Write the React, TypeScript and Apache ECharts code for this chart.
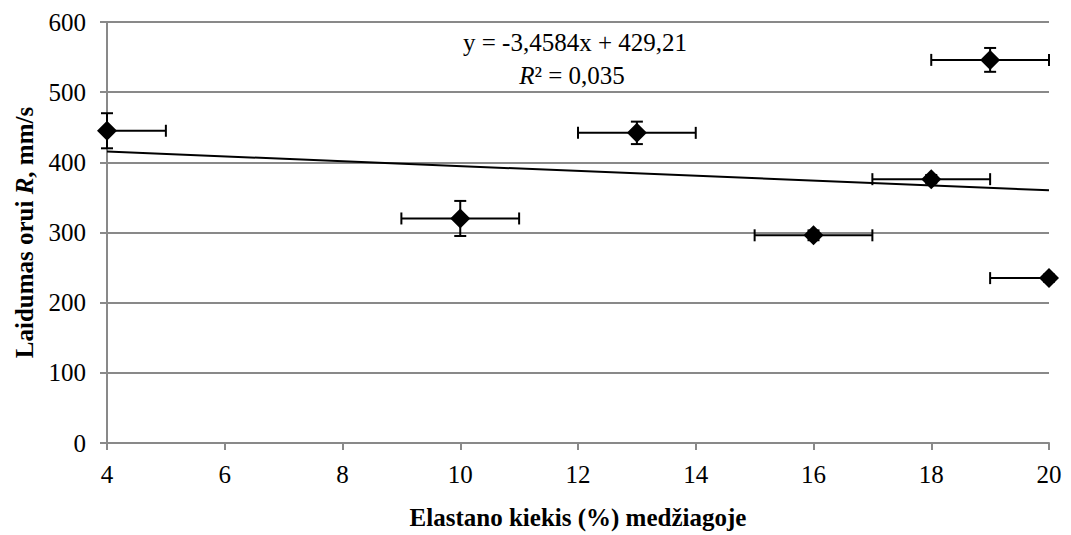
import React, { useEffect, useRef } from "react";
import * as echarts from "echarts";

const xValues = [4, 10, 13, 16, 18, 19, 20];
const yValues = [445, 320, 442, 296, 376, 546, 235];
const yErrors = [25, 25, 16, 7, 6, 17, 5];
const xErrors = [1, 1, 1, 1, 1, 1, 1];
const trendSlope = -3.4584;
const trendIntercept = 429.21;
const xMin = 4;
const xMax = 20;
const yTicks = [0, 100, 200, 300, 400, 500, 600];

const FONT = "Liberation Serif";
const FS = 25;

export default function App() {
  const ref = useRef<HTMLDivElement>(null);
  useEffect(() => {
    if (!ref.current) return;
    const chart = echarts.init(ref.current, undefined, { renderer: "svg" });
    const points = xValues.map((x, i) => [x, yValues[i]]);
    const errData = xValues.map((x, i) => [x, yValues[i], xErrors[i], yErrors[i]]);
    const trend = [
      [xMin, trendSlope * xMin + trendIntercept],
      [xMax, trendSlope * xMax + trendIntercept],
    ];
    const grid = "#898989";
    chart.setOption({
      animation: false,
      textStyle: { fontFamily: FONT },
      grid: { left: 107, right: 22, top: 22, bottom: 86, containLabel: false },
      xAxis: {
        type: "value",
        min: xMin,
        max: xMax,
        interval: 2,
        name: "Elastano kiekis (%) medžiagoje",
        nameLocation: "middle",
        nameGap: 62,
        nameTextStyle: { fontFamily: FONT, fontSize: FS, fontWeight: "bold", color: "#000" },
        axisLine: { show: true, lineStyle: { color: grid, width: 2 } },
        axisTick: { show: true, length: 7, lineStyle: { color: grid, width: 2 } },
        axisLabel: { fontFamily: FONT, fontSize: FS, color: "#000", margin: 19 },
        splitLine: { show: false },
      },
      yAxis: {
        type: "value",
        min: 0,
        max: 600,
        interval: 100,
        name: "{b|Laidumas orui }{i|R}{b|, mm/s}",
        nameLocation: "middle",
        nameGap: 70,
        nameTextStyle: {
          fontFamily: FONT,
          fontSize: FS,
          color: "#000",
          rich: {
            b: { fontFamily: FONT, fontSize: FS, fontWeight: "bold", color: "#000" },
            i: { fontFamily: FONT, fontSize: FS, fontWeight: "bold", fontStyle: "italic", color: "#000" },
          },
        },
        axisLine: { show: true, lineStyle: { color: grid, width: 2 } },
        axisTick: { show: true, length: 7, lineStyle: { color: grid, width: 2 } },
        axisLabel: {
          fontFamily: FONT,
          fontSize: FS,
          color: "#000",
          margin: 21,
          formatter: (v: number) => (yTicks.includes(v) ? String(v) : ""),
        },
        splitLine: { show: true, lineStyle: { color: grid, width: 2 } },
      },
      graphic: [
        {
          type: "text",
          x: 575,
          y: 42,
          style: {
            text: "y = -3,4584x + 429,21",
            fontFamily: FONT,
            fontSize: FS,
            fill: "#000",
            align: "center",
            verticalAlign: "middle",
          },
        },
        {
          type: "text",
          x: 572,
          y: 75,
          style: {
            text: "{i|R}{n|² = 0,035}",
            fill: "#000",
            align: "center",
            verticalAlign: "middle",
            rich: {
              i: { fontFamily: FONT, fontSize: FS, fontStyle: "italic", fill: "#000" },
              n: { fontFamily: FONT, fontSize: FS, fill: "#000" },
            },
          },
        },
      ],
      series: [
        {
          type: "line",
          data: trend,
          showSymbol: false,
          symbol: "none",
          lineStyle: { color: "#000", width: 2 },
          z: 3,
        },
        {
          type: "custom",
          data: errData,
          z: 4,
          renderItem: (params: any, api: any) => {
            const x = api.value(0);
            const y = api.value(1);
            const ex = api.value(2);
            const ey = api.value(3);
            const xl = Math.max(x - ex, xMin);
            const xr = Math.min(x + ex, xMax);
            const c = api.coord([x, y]);
            const pl = api.coord([xl, y]);
            const pr = api.coord([xr, y]);
            const pt = api.coord([x, y + ey]);
            const pb = api.coord([x, y - ey]);
            const st = { stroke: "#000", lineWidth: 2 };
            const ch: any[] = [
              { type: "line", shape: { x1: pl[0], y1: c[1], x2: pr[0], y2: c[1] }, style: st },
              { type: "line", shape: { x1: c[0], y1: pt[1], x2: c[0], y2: pb[1] }, style: st },
              { type: "line", shape: { x1: c[0] - 6, y1: pt[1], x2: c[0] + 6, y2: pt[1] }, style: st },
              { type: "line", shape: { x1: c[0] - 6, y1: pb[1], x2: c[0] + 6, y2: pb[1] }, style: st },
            ];
            if (x - ex >= xMin) {
              ch.push({ type: "line", shape: { x1: pl[0], y1: c[1] - 6, x2: pl[0], y2: c[1] + 6 }, style: st });
            }
            if (x + ex <= xMax) {
              ch.push({ type: "line", shape: { x1: pr[0], y1: c[1] - 6, x2: pr[0], y2: c[1] + 6 }, style: st });
            }
            return { type: "group", children: ch };
          },
        },
        {
          type: "scatter",
          data: points,
          symbol: "diamond",
          symbolSize: [20, 20],
          itemStyle: { color: "#000", opacity: 1 },
          z: 5,
        },
      ],
    });
    return () => chart.dispose();
  }, []);
  return <div ref={ref} style={{ position: "absolute", left: 0, top: 0, width: 1071, height: 535 }} />;
}
